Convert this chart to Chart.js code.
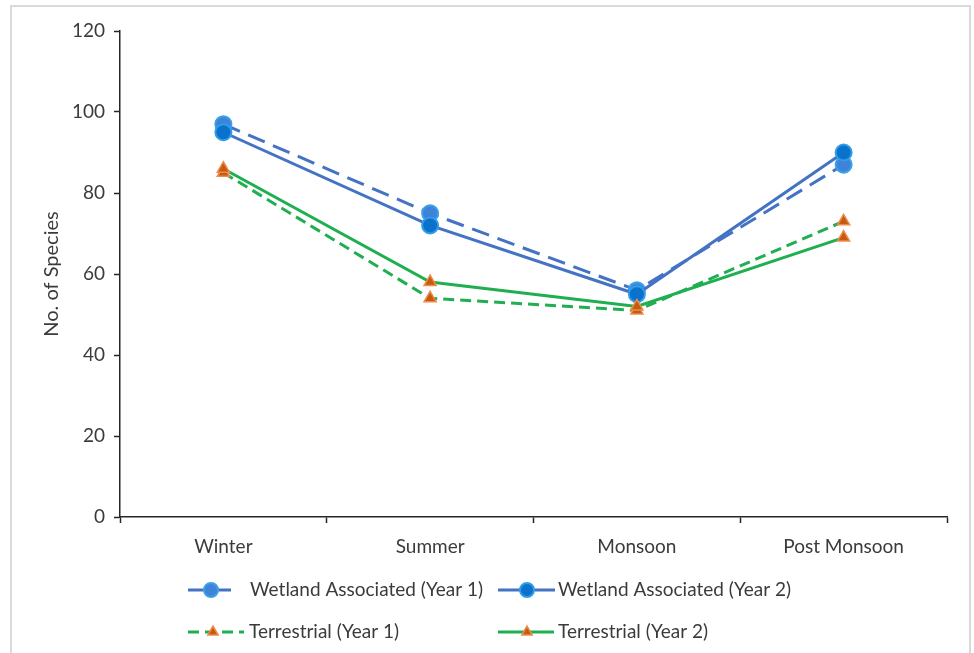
<!DOCTYPE html>
<html>
<head>
<meta charset="utf-8">
<script src="https://cdn.jsdelivr.net/npm/chart.js@4/dist/chart.umd.min.js"></script>
<style>
  html, body { margin: 0; padding: 0; background: #fff; }
  #wrap { position: relative; width: 974px; height: 653px; overflow: hidden; }
  #frame { position: absolute; left: 10px; top: 5px; width: 961px; height: 720px;
           border: 2px solid #d9d9d9; box-sizing: border-box; }
  #c { position: absolute; left: 0; top: 0; }
</style>
</head>
<body>
<div id="wrap">
  <div id="frame"></div>
  <canvas id="c" width="974" height="653"></canvas>
</div>
<script>
// Seasons on the category axis
const seasons = ['Winter', 'Summer', 'Monsoon', 'Post Monsoon'];

// Number of bird species recorded per season
const wetlandYear1     = [97, 75, 56, 87];
const wetlandYear2     = [95, 72, 55, 90];
const terrestrialYear1 = [85, 54, 51, 73];
const terrestrialYear2 = [86, 58, 52, 69];

// Series names
const seriesNames = [
  'Wetland Associated (Year 1)',
  'Wetland Associated (Year 2)',
  'Terrestrial (Year 1)',
  'Terrestrial (Year 2)'
];

// Value axis range
const yMin = 0, yMax = 120, yStep = 20;

const FONT = 'Lato, "Open Sans", sans-serif';
const FSIZE = 19;
const TEXT = '#3b3b3b';
const AXIS = '#262626';
const BLUE = '#4472C4';
const GREEN = '#1faf50';

const wetlandMarker = (fill, border) => ({
  pointStyle: 'circle', pointRadius: 8, pointHoverRadius: 8,
  pointBackgroundColor: fill, pointBorderColor: border, pointBorderWidth: 2
});
const triangleMarker = {
  pointStyle: 'triangle', pointRadius: 7, pointHoverRadius: 7,
  pointBackgroundColor: '#c55a11', pointBorderColor: '#ee8a4a', pointBorderWidth: 1.5
};

const datasets = [
  Object.assign({ label: seriesNames[0], data: wetlandYear1, borderColor: BLUE,
    borderWidth: 3, borderDash: [18, 9], order: 3 }, wetlandMarker('#3f83d9', '#3aa0ea')),
  Object.assign({ label: seriesNames[1], data: wetlandYear2, borderColor: BLUE,
    borderWidth: 3, order: 2 }, wetlandMarker('#0a72cc', '#2f9ee8')),
  Object.assign({ label: seriesNames[2], data: terrestrialYear1, borderColor: GREEN,
    borderWidth: 3, borderDash: [11, 6], order: 1 }, triangleMarker),
  Object.assign({ label: seriesNames[3], data: terrestrialYear2, borderColor: GREEN,
    borderWidth: 3, order: 0 }, triangleMarker)
];
datasets.forEach(d => { d.fill = false; d.tension = 0; });

// Two-row legend laid out in fixed columns under the plot
const legendSlots = [
  { ds: 0, x0: 188, x1: 231, mx: 211, y: 590, tx: 250, ty: 596 },
  { ds: 1, x0: 498, x1: 555, mx: 527, y: 590, tx: 558, ty: 596 },
  { ds: 2, x0: 188, x1: 244, mx: 213, y: 632, tx: 249, ty: 638 },
  { ds: 3, x0: 498, x1: 554, mx: 527, y: 632, tx: 558, ty: 638 }
];

const columnLegend = {
  id: 'columnLegend',
  afterDraw(chart) {
    const ctx = chart.ctx;
    legendSlots.forEach(s => {
      const d = chart.data.datasets[s.ds];
      ctx.save();
      ctx.strokeStyle = d.borderColor;
      ctx.lineWidth = d.borderWidth;
      ctx.setLineDash(d.borderDash || []);
      ctx.beginPath();
      ctx.moveTo(s.x0, s.y);
      ctx.lineTo(s.x1, s.y);
      ctx.stroke();
      ctx.setLineDash([]);
      ctx.fillStyle = d.pointBackgroundColor;
      ctx.strokeStyle = d.pointBorderColor;
      ctx.lineWidth = d.pointBorderWidth;
      const r = d.pointStyle === 'circle' ? 7 : 6;
      Chart.helpers.drawPoint(ctx, { pointStyle: d.pointStyle, radius: r, rotation: 0,
        borderWidth: d.pointBorderWidth }, s.mx, s.y);
      ctx.fillStyle = TEXT;
      ctx.font = FSIZE + 'px ' + FONT;
      ctx.textBaseline = 'alphabetic';
      ctx.textAlign = 'left';
      ctx.fillText(d.label, s.tx, s.ty);
      ctx.restore();
    });
  }
};

new Chart(document.getElementById('c'), {
  type: 'line',
  data: { labels: seasons, datasets: datasets },
  plugins: [columnLegend],
  options: {
    responsive: false,
    devicePixelRatio: 1,
    animation: false,
    events: [],
    layout: { padding: { top: 31, right: 27, bottom: 0, left: 0 } },
    plugins: { legend: { display: false }, tooltip: { enabled: false } },
    scales: {
      x: {
        type: 'category',
        offset: true,
        afterFit: s => { s.height = 136; },
        grid: { offset: true, drawOnChartArea: false, drawTicks: true,
                tickLength: 6, tickColor: AXIS, tickWidth: 1.5 },
        border: { display: true, color: AXIS, width: 1.5 },
        ticks: { color: TEXT, font: { family: FONT, size: FSIZE }, padding: 12,
                 maxRotation: 0, autoSkip: false }
      },
      y: {
        min: yMin, max: yMax,
        afterFit: s => { s.width = 120; },
        grid: { drawOnChartArea: false, drawTicks: true,
                tickLength: 6, tickColor: AXIS, tickWidth: 1.5 },
        border: { display: true, color: AXIS, width: 1.5 },
        ticks: { stepSize: yStep, color: TEXT, font: { family: FONT, size: FSIZE }, padding: 9 },
        title: { display: true, text: 'No. of Species', color: TEXT,
                 font: { family: FONT, size: 20 }, padding: { top: 40, bottom: 0 } }
      }
    }
  }
});
</script>
</body>
</html>
